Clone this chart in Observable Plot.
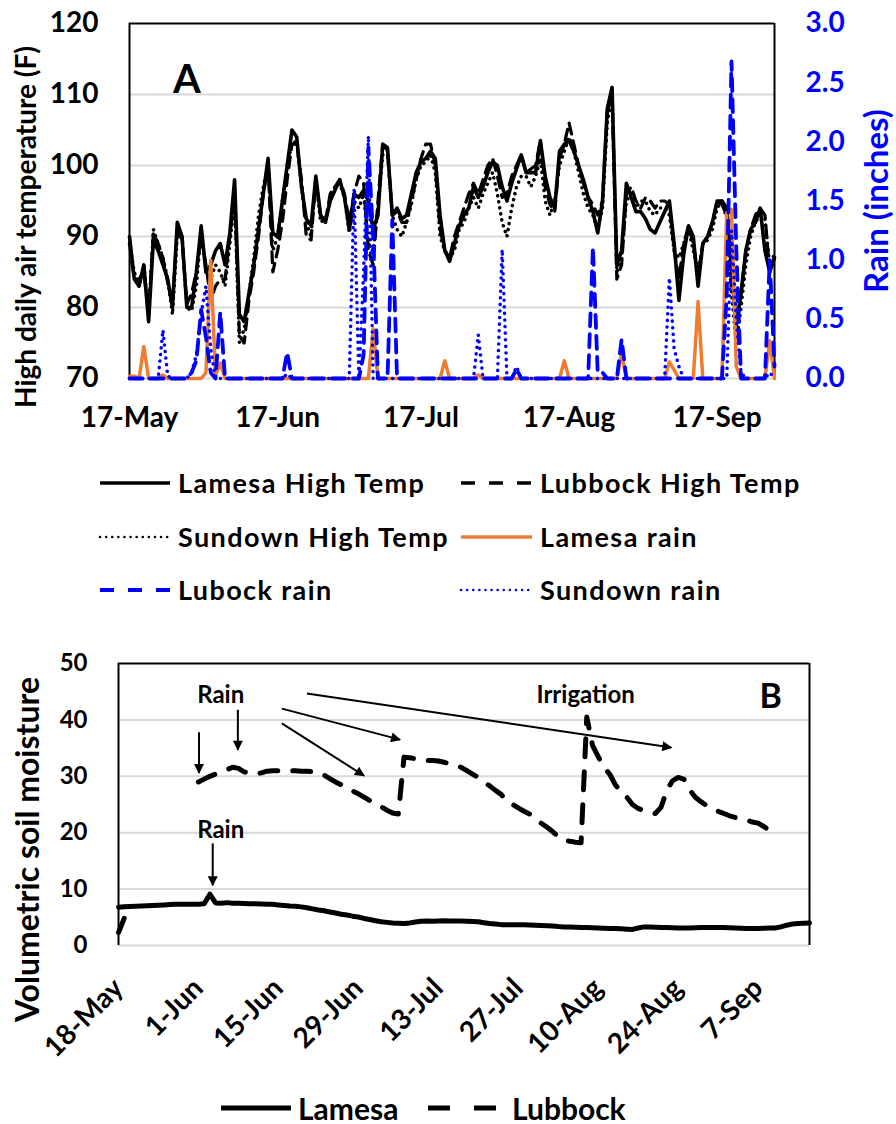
<!DOCTYPE html>
<html><head><meta charset="utf-8">
<script src="https://cdn.jsdelivr.net/npm/d3@7"></script>
<script src="https://cdn.jsdelivr.net/npm/@observablehq/plot@0.6"></script>
<style>
body{margin:0;background:#fff;}
#wrap{position:relative;width:896px;height:1124px;background:#fff;font-family:Lato,sans-serif;font-weight:bold;overflow:hidden;}
.lg{position:absolute;white-space:nowrap;color:#000;font-family:Lato,sans-serif;font-weight:bold;}
.sw{position:absolute;overflow:visible;}
</style></head><body><div id="wrap"></div>
<script>
// ---------- Panel A data (daily from 17-May) ----------
const startDateA = "2019-05-17";
const tickLabelsA = ["2019-05-17","2019-06-17","2019-07-17","2019-08-17","2019-09-17"];
const tempTicks = [70,80,90,100,110,120];
const rainTicks = [0,0.5,1,1.5,2,2.5,3];
const tempLamesa = [
 90,84,83,86,78,89.5,88,86,84,80,
 92,90,80,80,85,91.5,85,86,88,89,
 86,90.5,98,79,78,82,86,91,96,101,
 90.5,90,95,100,105,104,97,92.5,91.5,98.5,
 93,92,95,96.5,98,95.5,91,96,95.5,96.5,
 95,91,93,103,102.5,93,94,92.5,93,96,
 99,100.5,101,102,101,93,88,86.5,89,91.5,
 93,94,97,95.5,97,99,100.5,100,97,95,
 97.5,99.5,101.5,99,99,99,103.5,98.5,95.5,94,
 102,103,103.5,102,100,98,95.5,93.5,90.5,95,
 108,111,86,88,97.5,95.5,93.5,93.5,92.5,91,
 90.5,92,93.5,95,89,81,87.5,91.5,90,83,
 89,90,92,95,95,94,86,77.5,82,88,
 91,92,94,88,85,87];
const tempLubbock = [
 89,84,84,85,79,90.5,89,87,83.5,80.5,
 91,89.5,80.5,82,85,90,86,81,83,84,
 84,90,96,76,75,81,85,90,96,100,
 85,88,92,98,103,103,98,90,89.5,98,
 93,92,96,97,98,96,92,96,98.5,97.5,
 88,86,95,103,102,93,93.5,92,92,95,
 98,101,103,103,100,91,88,87,90,92,
 94,96,97.5,96,98,100,101,98.5,95.5,96,
 98.5,100,101.5,99,99.5,100,103.5,97,94.5,93.5,
 101,103,106,103,100,97.5,95.5,94.5,93,95,
 107.5,110,84,86,96,97,95,94,95.5,95,
 94,95,95,94.5,88,84,89,91.5,89,84.5,
 89,90,92,95,94.5,93,85,81,82,88,
 91,93,94,93,85,87];
const tempSundown = [
 89,85,83,86,79,91,89,87,84,79,
 90,90,80,79.5,83,91,85,84,86,85,
 83,89,95,75,77,82,87,93,97,100,
 88,90,95,100,103,103.5,97,92,90,98,
 92,92.5,95,97,97.5,95.5,90.5,95,94,96,
 89,88,94,101.5,102,93,91,90,92,94.5,
 98,100,100.5,101.5,99,90,88,87,88,91,
 92,94,95.5,94,96,97.5,99,96,92,90,
 94,97,98.5,98.5,97,98.5,101,95,93,95,
 100,102,104,102,99,96,94,93,91,94,
 106,110,85,87,95,96,94,95,95,93.5,
 93,94,94,93,88,87,89,91,88,85,
 89,89.5,91,94,95,92.5,82,75,80,86,
 90,92,93,92.5,86,87.5];
const rainLamesa = [
 0.02,0.02,0,0.27,0,0,0,0.03,0,0,
 0,0,0,0,0,0,0.05,1.0,0.03,0.13,
 0,0,0,0,0,0,0,0,0,0,
 0,0,0,0,0,0,0,0,0,0,
 0,0,0,0,0,0,0,0,0,0,
 0,0.42,0,0,0,0,0,0,0,0,
 0,0,0,0,0,0,0.15,0,0,0,
 0,0,0,0.03,0,0,0,0,0,0,
 0,0,0,0,0,0,0,0,0,0,
 0,0.15,0,0,0,0,0,0,0,0,
 0,0,0,0.21,0,0,0,0,0,0,
 0,0,0,0.14,0.07,0,0,0,0,0.65,
 0,0,0,0,0,1.4,1.43,0.1,0,0,
 0,0,0,0,0.32,0];
const rainLubbock = [
 0,0,0,0,0,0,0,0,0,0,
 0,0,0,0.05,0.15,0.58,0.35,0.05,0,0.56,
 0,0,0,0,0,0,0,0,0,0,
 0,0,0,0.22,0,0,0,0,0,0,
 0,0,0,0,0,0,0,0,0,0.2,
 1.95,1.2,0,0,0,1.34,0,0,0,0,
 0,0,0,0,0,0,0,0,0,0,
 0,0,0,0,0,0,0,0,0,0,
 0,0.08,0,0,0,0,0,0,0,0,
 0,0,0,0,0,0,0,1.11,0.05,0.05,
 0,0,0,0.33,0,0,0,0,0,0,
 0,0,0,0,0,0,0,0,0,0,
 0,0,0,0,0,0.7,2.68,1.1,0,0,
 0,0,0,0,1.0,0.1];
const rainSundown = [
 0,0,0,0,0,0,0,0.41,0.02,0,
 0,0,0,0.05,0.2,0.55,0.78,0.25,0,0,
 0,0,0,0,0,0,0,0,0,0,
 0,0,0,0.04,0,0,0,0,0,0,
 0,0,0,0,0,0,0,1.6,0,0.9,
 2.05,0,0,0,0,0,0,0,0,0,
 0,0,0,0,0,0,0,0,0,0,
 0,0,0,0.37,0,0,0,0,1.09,0,
 0,0.1,0,0,0,0,0,0,0,0,
 0,0,0,0,0,0,0,0,0,0,
 0,0,0,0,0,0,0,0,0,0,
 0,0,0,0.85,0.25,0.1,0,0,0,0,
 0,0,0,0,0,0,1.25,0.5,0.05,0,
 0,0,0,0,0.05,0];

// ---------- Panel B data (daily from 18-May) ----------
const startDateB = "2019-05-18";
const tickEveryDaysB = 14;
const soilTicks = [0,10,20,30,40,50];
const soilLamesa = [
 6.8,6.85,6.9,6.95,7.0,7.05,7.1,7.15,7.2,7.25,
 7.3,7.3,7.3,7.3,7.3,7.4,9.1,7.55,7.5,7.6,
 7.5,7.5,7.45,7.4,7.4,7.35,7.3,7.3,7.2,7.1,
 7.0,6.95,6.85,6.7,6.5,6.3,6.15,5.95,5.75,5.55,
 5.4,5.2,5.05,4.8,4.6,4.4,4.2,4.1,4.0,3.95,
 3.9,4.0,4.15,4.3,4.35,4.3,4.35,4.4,4.35,4.35,
 4.35,4.3,4.25,4.2,4.05,3.9,3.8,3.7,3.7,3.7,
 3.7,3.7,3.65,3.6,3.55,3.5,3.45,3.35,3.3,3.3,
 3.25,3.2,3.2,3.15,3.1,3.05,3.0,3.0,2.95,2.9,
 2.85,3.1,3.3,3.3,3.25,3.2,3.2,3.15,3.1,3.1,
 3.1,3.15,3.2,3.2,3.2,3.2,3.2,3.15,3.1,3.05,
 3.0,3.0,3.0,3.05,3.1,3.1,3.3,3.6,3.8,3.9,
 3.95,4.0];
const soilLubbock = [
 2.3,4.8,null,null,null,null,null,null,null,null,
 null,null,null,null,29.0,29.5,30.0,30.4,30.8,31.2,
 31.6,31.4,30.8,30.5,30.4,30.6,30.9,31.0,31.0,31.0,
 31.0,31.0,30.9,30.9,30.8,30.7,30.2,29.6,29.0,28.5,
 27.9,27.4,26.9,26.3,25.7,25.1,24.6,24.0,23.5,23.3,
 33.4,33.3,33.1,32.9,32.8,32.8,32.7,32.5,32.2,31.9,
 31.6,31.0,30.4,29.8,29.0,28.3,27.5,26.8,25.6,25.0,
 24.4,23.8,23.3,22.5,21.7,21.0,20.2,19.3,18.6,18.5,
 18.3,18.2,40.5,35.5,33.5,31.6,30.4,28.5,27.3,26.3,
 25.0,24.3,23.9,23.6,23.4,24.5,27.5,29.2,29.8,29.5,
 27.6,26.3,25.5,24.8,24.2,23.8,23.4,23.0,22.7,22.4,
 22.2,21.9,21.7,21.1,20.4,null,null,null,null,null,
 null,null];
// annotations (x: days after 18-May, y: soil moisture)
const notesB = [
 {x:17.9, y:44.3, text:"Rain"},
 {x:81.8, y:44.3, text:"Irrigation"},
 {x:17.9, y:20.4, text:"Rain"}
];
const arrowsB = [
 {x1:14.1, y1:37.8, x2:14.1, y2:30.6},
 {x1:20.9, y1:41.8, x2:20.9, y2:34.7},
 {x1:28.6, y1:42.0, x2:49.3, y2:36.5},
 {x1:28.6, y1:39.4, x2:43.0, y2:30.1},
 {x1:33.0, y1:44.7, x2:96.8, y2:35.1},
 {x1:16.5, y1:18.1, x2:16.5, y2:10.7}
];

// ---------- build ----------
const parse = d3.utcParse("%Y-%m-%d");
const fmt = d3.utcFormat("%-d-%b");
const A0 = parse(startDateA), B0 = parse(startDateB);
const dayA = i => new Date(+A0 + i*864e5);
const dayB = i => new Date(+B0 + i*864e5);
const rainToT = r => 70 + r*50/3;
const rowsA = tempLamesa.map((v,i)=>({date:dayA(i), lam:v, lub:tempLubbock[i], sun:tempSundown[i],
  rLam:rainToT(rainLamesa[i]), rLub:rainToT(rainLubbock[i]), rSun:rainToT(rainSundown[i])}));
const rowsB = soilLamesa.map((v,i)=>({date:dayB(i), lam:v, lub:soilLubbock[i]}));
const lastA = dayA(tempLamesa.length-1);
const lastB = dayB(soilLamesa.length-1);

const BLUE = "#0000ff", ORANGE = "#ed7d31";
const baseStyle = {fontFamily:"Lato, sans-serif", fontWeight:"bold", color:"#000", background:"transparent", overflow:"visible"};

const plotA = Plot.plot({
  width:896, height:440, marginLeft:129, marginRight:122, marginTop:23, marginBottom:62,
  style:{...baseStyle, fontSize:"28px"},
  x:{type:"utc", domain:[A0, lastA]},
  y:{domain:[70,120]},
  marks:[
    Plot.ruleY(tempTicks.filter(t=>t<120), {stroke:"#d9d9d9", strokeWidth:2}),
    Plot.ruleY([120], {stroke:"#000", strokeWidth:2}),
    Plot.ruleX([A0, lastA], {stroke:"#000", strokeWidth:2}),
    Plot.axisX(tickLabelsA.map(parse), {tickSize:0, tickPadding:29, tickFormat:fmt, label:null, fontSize:28}),
    Plot.axisY(tempTicks, {tickSize:0, tickPadding:31, label:null, fontSize:28}),
    Plot.axisY(rainTicks.map(rainToT), {anchor:"right", tickSize:0, tickPadding:31, label:null, fontSize:28, color:BLUE,
      tickFormat:t=>((t-70)*3/50).toFixed(1)}),
    Plot.line(rowsA, {x:"date", y:"lam", stroke:"#000", strokeWidth:3.6, strokeLinejoin:"round"}),
    Plot.line(rowsA, {x:"date", y:"lub", stroke:"#000", strokeWidth:3.2, strokeDasharray:"11,7"}),
    Plot.line(rowsA, {x:"date", y:"sun", stroke:"#000", strokeWidth:3.5, strokeDasharray:"0.1,6", strokeLinecap:"round"}),
    Plot.line(rowsA, {x:"date", y:"rLam", stroke:ORANGE, strokeWidth:3.5, strokeLinejoin:"round"}),
    Plot.line(rowsA, {x:"date", y:"rLub", stroke:BLUE, strokeWidth:3.8, strokeDasharray:"13,8"}),
    Plot.line(rowsA, {x:"date", y:"rSun", stroke:BLUE, strokeWidth:3.5, strokeDasharray:"0.1,6.5", strokeLinecap:"round"}),
    Plot.text(["A"], {x:()=>dayA(12), y:()=>112, text:d=>d, fontSize:40, fontWeight:"bold"}),
    Plot.text(["High daily air temperature (F)"], {frameAnchor:"left", textAnchor:"middle", text:d=>d, rotate:-90, dx:-102, dy:26, fontSize:28, fontWeight:"bold"}),
    Plot.text(["Rain (inches)"], {frameAnchor:"right", textAnchor:"middle", text:d=>d, rotate:-90, dx:103, dy:0, fontSize:33, fontWeight:"bold", fill:BLUE})
  ]
});
plotA.style.position = "absolute"; plotA.style.left = "0px"; plotA.style.top = "0px";

const ticksB = d3.range(0, soilLamesa.length-1, tickEveryDaysB).map(dayB);
const atB = x => new Date(+B0 + x*864e5);
const plotB = Plot.plot({
  width:896, height:440, marginLeft:118, marginRight:87, marginTop:23, marginBottom:135,
  style:{...baseStyle, fontSize:"23px"},
  x:{type:"utc", domain:[B0, lastB]},
  y:{domain:[0,50]},
  marks:[
    Plot.ruleY(soilTicks.filter(t=>t<50), {stroke:"#d9d9d9", strokeWidth:2}),
    Plot.ruleY([50], {stroke:"#000", strokeWidth:2}),
    Plot.ruleX([B0, lastB], {stroke:"#000", strokeWidth:2}),
    Plot.axisX(ticksB, {tickSize:0, tickPadding:38, tickRotate:-45, tickFormat:fmt, label:null, fontSize:28}),
    Plot.axisY(soilTicks, {tickSize:0, tickPadding:31, label:null, fontSize:24}),
    Plot.line(rowsB, {x:"date", y:"lam", stroke:"#000", strokeWidth:5, strokeLinejoin:"round"}),
    Plot.line(rowsB, {x:"date", y:"lub", stroke:"#000", strokeWidth:5, strokeDasharray:"18,15"}),
    Plot.link(arrowsB, {x1:d=>atB(d.x1), y1:"y1", x2:d=>atB(d.x2), y2:"y2", stroke:"#000", strokeWidth:2}),
    Plot.text(notesB, {x:d=>atB(d.x), y:"y", text:"text", fontSize:24, fontWeight:"bold"}),
    Plot.text(["B"], {x:()=>atB(114.2), y:()=>44, text:d=>d, fontSize:34, fontWeight:"bold"}),
    Plot.text(["Volumetric soil moisture"], {frameAnchor:"left", textAnchor:"middle", text:d=>d, rotate:-90, dx:-90, dy:45, fontSize:32, fontWeight:"bold"})
  ]
});
plotB.style.position = "absolute"; plotB.style.left = "0px"; plotB.style.top = "640px";
// filled arrowheads
(function(){
  const ns = "http://www.w3.org/2000/svg";
  const defs = document.createElementNS(ns,"defs");
  const mk = document.createElementNS(ns,"marker");
  mk.setAttribute("id","ahead"); mk.setAttribute("viewBox","0 0 10 10");
  mk.setAttribute("refX","9"); mk.setAttribute("refY","5");
  mk.setAttribute("markerWidth","7"); mk.setAttribute("markerHeight","5"); mk.setAttribute("orient","auto");
  const p = document.createElementNS(ns,"path"); p.setAttribute("d","M0,0L10,5L0,10Z"); p.setAttribute("fill","#000");
  mk.appendChild(p); defs.appendChild(mk); plotB.insertBefore(defs, plotB.firstChild);
  plotB.querySelectorAll('g[aria-label="link"] path, g[aria-label="link"] line').forEach(e=>e.setAttribute("marker-end","url(#ahead)"));
})();

const wrap = document.getElementById("wrap");
wrap.appendChild(plotA);
wrap.appendChild(plotB);

// ---------- legends ----------
const legendA = [
 {label:"Lamesa High Temp", col:0, row:0, stroke:"#000", w:3.5, dash:null},
 {label:"Lubbock High Temp", col:1, row:0, stroke:"#000", w:3.5, dash:"14,14"},
 {label:"Sundown High Temp", col:0, row:1, stroke:"#000", w:2.5, dash:"0.1,6", cap:"round"},
 {label:"Lamesa rain", col:1, row:1, stroke:ORANGE, w:3.5, dash:null},
 {label:"Lubock rain", col:0, row:2, stroke:BLUE, w:4, dash:"14,14"},
 {label:"Sundown rain", col:1, row:2, stroke:BLUE, w:2.5, dash:"0.1,6", cap:"round"}
];
const legendB = [
 {label:"Lamesa", x0:221, x1:291, tx:298, w:5, dash:null},
 {label:"Lubbock", x0:428, x1:497, tx:512, w:5, dash:"22,24"}
];
function sample(x0,x1,y,stroke,w,dash,cap){
  const s = document.createElementNS("http://www.w3.org/2000/svg","svg");
  s.setAttribute("class","sw"); s.setAttribute("width", x1-x0+4); s.setAttribute("height", 12);
  s.style.left = (x0-2)+"px"; s.style.top = (y-6)+"px";
  const l = document.createElementNS("http://www.w3.org/2000/svg","line");
  l.setAttribute("x1",2); l.setAttribute("x2",x1-x0+2); l.setAttribute("y1",6); l.setAttribute("y2",6);
  l.setAttribute("stroke",stroke); l.setAttribute("stroke-width",w);
  if (dash) l.setAttribute("stroke-dasharray",dash);
  if (cap) l.setAttribute("stroke-linecap",cap);
  s.appendChild(l); wrap.appendChild(s);
}
function label(text,x,y,size){
  const d = document.createElement("div"); d.className="lg"; d.textContent=text;
  d.style.left=x+"px"; d.style.top=(y-size*0.65)+"px"; d.style.fontSize=size+"px"; d.style.lineHeight=(size*1.3)+"px";
  wrap.appendChild(d); return d;
}
const colA = [{x0:100,x1:170,tx:178},{x0:461,x1:532,tx:540}];
const rowA = [483,537,590];
legendA.forEach(e=>{
  const c = colA[e.col], y = rowA[e.row];
  sample(c.x0,c.x1,y,e.stroke,e.w,e.dash,e.cap);
  const d = label(e.label,c.tx,y,27); d.style.letterSpacing="1.4px";
});
legendB.forEach(e=>{
  sample(e.x0,e.x1,1108,"#000",e.w,e.dash);
  label(e.label,e.tx,1108,30);
});
</script></body></html>
